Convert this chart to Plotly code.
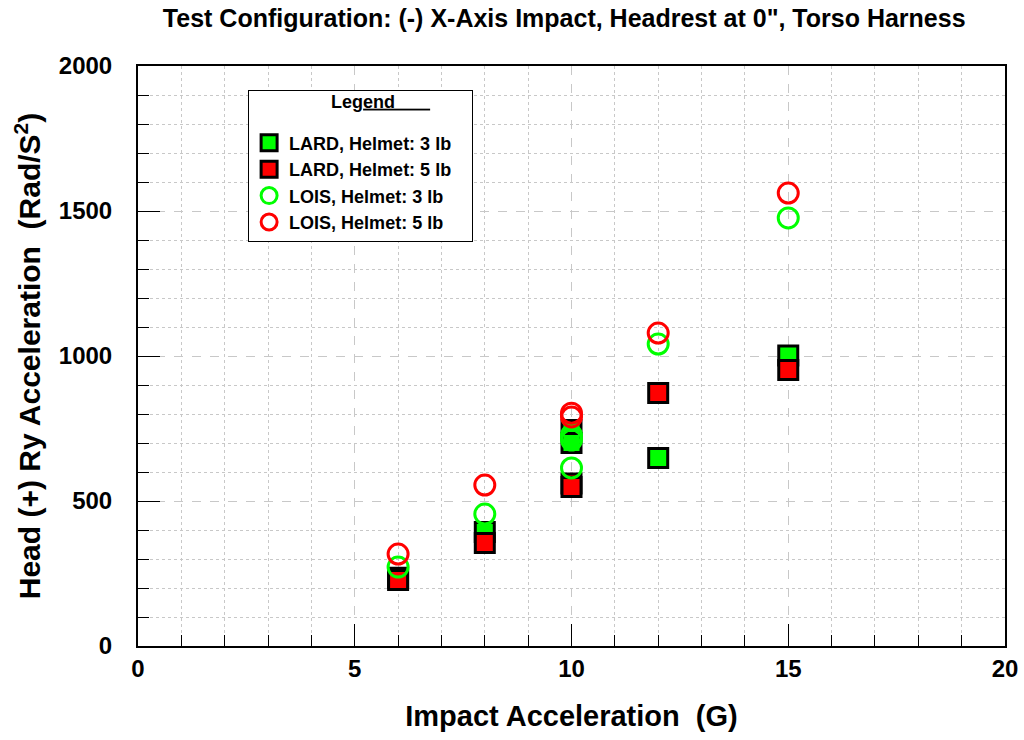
import plotly.graph_objects as go

# Data (Impact acceleration G, head Ry acceleration rad/s^2)
lard3_x = [6, 8, 10, 10, 12, 15]
lard3_y = [235, 393, 745, 700, 648, 1002]
lard5_x = [6, 8, 10, 10, 12, 15]
lard5_y = [228, 355, 560, 548, 872, 952]
lois3_x = [6, 8, 10, 10, 10, 12, 15]
lois3_y = [272, 455, 727, 710, 614, 1041, 1476]
lois5_x = [6, 8, 10, 10, 12, 15]
lois5_y = [317, 555, 803, 790, 1079, 1562]

title = 'Test Configuration: (-) X-Axis Impact, Headrest at 0", Torso Harness'
xlabel = "Impact Acceleration  (G)"
ylabel = "Head (+) Ry Acceleration  (Rad/S<sup>2</sup>)"
names = ["LARD, Helmet: 3 lb", "LARD, Helmet: 5 lb", "LOIS, Helmet: 3 lb", "LOIS, Helmet: 5 lb"]

FONT = "Arial, Liberation Sans, sans-serif"
GREEN = "#00ff00"
RED = "#ff0000"


def lname(s):
    return "<b>" + s + "</b>&nbsp;&nbsp;&nbsp;"


fig = go.Figure()
fig.add_trace(go.Scatter(x=lard3_x, y=lard3_y, mode="markers", name=lname(names[0]),
                         marker=dict(symbol="square", size=19, color=GREEN, line=dict(color="black", width=3))))
fig.add_trace(go.Scatter(x=lard5_x, y=lard5_y, mode="markers", name=lname(names[1]),
                         marker=dict(symbol="square", size=19, color=RED, line=dict(color="black", width=3))))
fig.add_trace(go.Scatter(x=lois3_x, y=lois3_y, mode="markers", name=lname(names[2]),
                         marker=dict(symbol="circle-open", size=20, color=GREEN, line=dict(color=GREEN, width=3))))
fig.add_trace(go.Scatter(x=lois5_x, y=lois5_y, mode="markers", name=lname(names[3]),
                         marker=dict(symbol="circle-open", size=20, color=RED, line=dict(color=RED, width=3))))

nb = "&nbsp;"
legend_title = ("<span style='font-size:18px'><b>" + nb * 8 + "Leg<u>end" + nb * 7 + "</u></b></span><br> ")

grid_c = "#c8c8c8"
fig.update_layout(
    width=1024, height=740,
    margin=dict(l=138, r=19, t=66, b=94),
    paper_bgcolor="white", plot_bgcolor="white",
    font=dict(family=FONT, color="black"),
    title=dict(text="<b>" + title + "</b>", x=0.551, xanchor="center", y=0.975, yanchor="middle",
               font=dict(size=25, family=FONT, color="black")),
    legend=dict(x=0.127, y=0.959, xanchor="left", yanchor="top",
                bgcolor="white", bordercolor="black", borderwidth=1,
                font=dict(size=18, family=FONT, color="black"),
                title=dict(text=legend_title, side="top center", font=dict(size=13, family=FONT)),
                itemsizing="trace"),
    xaxis=dict(range=[0, 20], tickmode="linear", tick0=0, dtick=5, automargin=False,
               showgrid=True, gridcolor=grid_c, griddash="dash", gridwidth=1,
               ticks="inside", ticklen=22, tickwidth=1, tickcolor="black",
               showline=True, linecolor="black", linewidth=2, mirror=True,
               zeroline=False, ticklabelstandoff=0,
               tickfont=dict(size=24, family=FONT),
               tickprefix="<b>", ticksuffix="</b>",
               minor=dict(dtick=1, showgrid=True, gridcolor=grid_c, griddash="dot",
                          ticks="inside", ticklen=11, tickcolor="black"),
               title=dict(text="<b>" + xlabel + "</b>", font=dict(size=29, family=FONT), standoff=25)),
    yaxis=dict(range=[0, 2000], tickmode="linear", tick0=0, dtick=500, automargin=False,
               showgrid=True, gridcolor=grid_c, griddash="dash", gridwidth=1,
               ticks="inside", ticklen=22, tickwidth=1, tickcolor="black",
               showline=True, linecolor="black", linewidth=2, mirror=True,
               zeroline=False, ticklabelstandoff=19,
               tickfont=dict(size=24, family=FONT),
               tickprefix="<b>", ticksuffix="</b>",
               minor=dict(dtick=100, showgrid=True, gridcolor=grid_c, griddash="dot",
                          ticks="inside", ticklen=11, tickcolor="black"),
               title=dict(text="<b>" + ylabel + "</b>", font=dict(size=30, family=FONT), standoff=9)),
)

fig.write_html("out.html", config={"displayModeBar": False},
               post_script="document.body.style.margin='0px';document.body.style.padding='0px';")
